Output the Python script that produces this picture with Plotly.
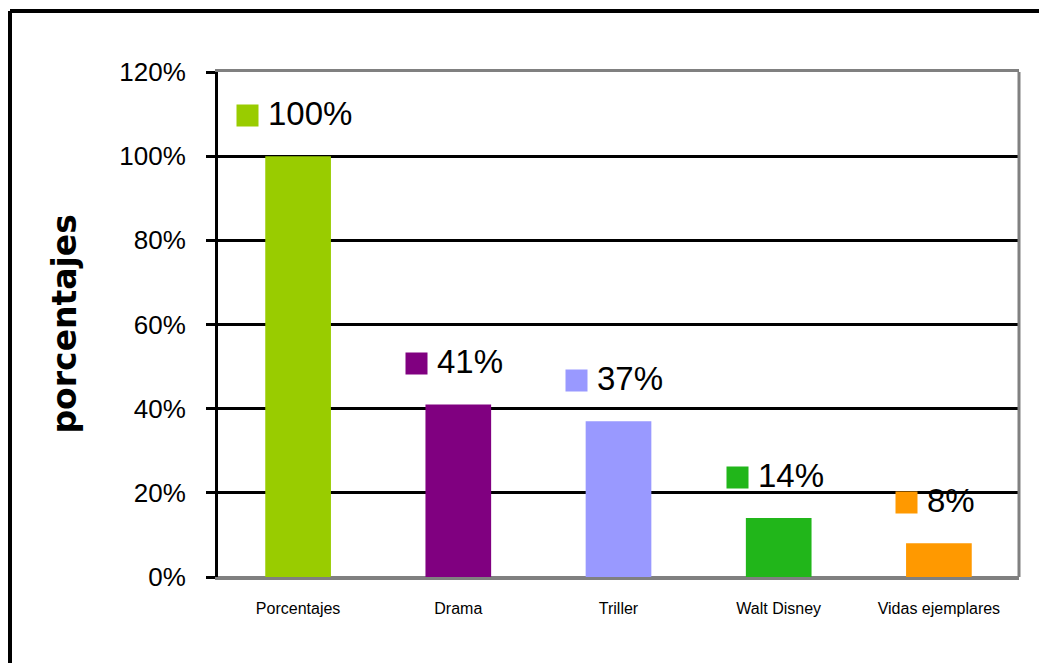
import plotly.graph_objects as go

categories = ["Porcentajes", "Drama", "Triller", "Walt Disney", "Vidas ejemplares"]
values = [1.00, 0.41, 0.37, 0.14, 0.08]
labels = ["100%", "41%", "37%", "14%", "8%"]
colors = ["#99CC00", "#800080", "#9999FF", "#21B61A", "#FF9900"]
y_ticks = [0, 0.2, 0.4, 0.6, 0.8, 1.0, 1.2]
y_tick_text = ["0%", "20%", "40%", "60%", "80%", "100%", "120%"]

W, H = 1039, 663
L, T, R, B = 218, 72, 20, 86
pw, ph = W - L - R, H - T - B

fig = go.Figure()
fig.add_trace(go.Bar(x=categories, y=values, marker=dict(color=colors, line=dict(width=0)),
                     width=0.41, showlegend=False, hoverinfo="skip"))

annotations = []
fs = 33
for cat, val, lab, col in zip(categories, values, labels, colors):
    nd = sum(ch.isdigit() for ch in lab)
    tw = (0.556 * nd + 0.889) * 32
    group = 21 + 9 + tw
    left = -group / 2 - 5
    annotations.append(dict(x=cat, y=val, xref="x", yref="y", text=" ", showarrow=False,
                            width=21, height=21, bgcolor=col, borderpad=0,
                            xanchor="center", yanchor="middle",
                            xshift=left + 10.5, yshift=41, font=dict(size=4)))
    annotations.append(dict(x=cat, y=val, xref="x", yref="y", text=lab, showarrow=False,
                            xanchor="left", yanchor="middle", xshift=left + 29, yshift=43,
                            font=dict(size=fs, color="black", family="Liberation Sans, Arial")))

annotations.append(dict(x=(64 - L) / pw, y=0.5, xref="paper", yref="paper", text="<b>porcentajes</b>",
                        textangle=-90, showarrow=False, xanchor="center", yanchor="middle",
                        font=dict(size=33, color="black", family="DejaVu Sans")))

x_left = (10 - L) / pw
y_top = (H - B - 11) / ph
shapes = [
    dict(type="line", xref="paper", yref="paper", x0=x_left, x1=x_left,
         y0=(H - B - (H + 20)) / ph, y1=y_top,
         line=dict(color="black", width=4), layer="below"),
    dict(type="line", xref="paper", yref="paper", x0=x_left, x1=(W + 20 - L) / pw, y0=y_top, y1=y_top,
         line=dict(color="black", width=4), layer="below"),
    dict(type="line", xref="paper", yref="paper", x0=1, x1=1, y0=0, y1=1,
         line=dict(color="#808080", width=3)),
]

fig.update_layout(
    width=W, height=H,
    margin=dict(l=L, r=R, t=T, b=B),
    paper_bgcolor="white", plot_bgcolor="white",
    font=dict(family="Liberation Sans, Arial", color="black"),
    bargap=0.59,
    annotations=annotations,
    shapes=shapes,
    xaxis=dict(showline=True, linecolor="#808080", linewidth=3, mirror=True,
               showgrid=False, ticks="", tickfont=dict(size=16, color="black"),
               ticklabelstandoff=15),
    yaxis=dict(range=[0, 1.2], tickvals=y_ticks, ticktext=y_tick_text,
               tickfont=dict(size=26, color="black"),
               showline=True, linecolor="black", linewidth=3,
               ticks="outside", ticklen=9, tickwidth=3, tickcolor="black",
               showgrid=True, gridcolor="black", gridwidth=3,
               zeroline=True, zerolinecolor="#808080", zerolinewidth=3,
               ticklabelstandoff=15),
)

fig.write_html("out.html", config={"displayModeBar": False},
               post_script="document.body.style.margin='0';document.body.style.overflow='hidden';")
